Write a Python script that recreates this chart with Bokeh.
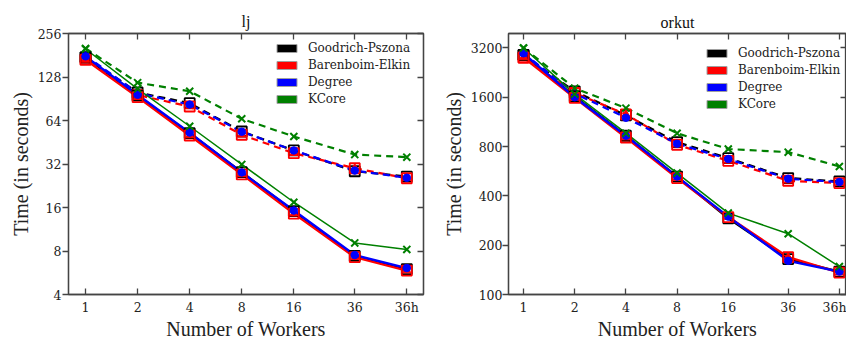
from bokeh.plotting import figure
from bokeh.layouts import row
from bokeh.models import (FixedTicker, PrintfTickFormatter, LogAxis, Legend, LegendItem,
                          CustomJSTickFormatter, Range1d)
from bokeh.embed import file_html
from bokeh.resources import INLINE

# ---------------- data ----------------
workers = [1, 2, 4, 8, 16, 36, 72]          # 72 is shown as "36h" (36 cores, hyper-threading)
worker_labels = ["1", "2", "4", "8", "16", "36", "36h"]
algorithms = ["Goodrich-Pszona", "Barenboim-Elkin", "Degree", "KCore"]

# lj  (solid = first variant, dashed = second variant)
lj_gp_solid = [175, 95, 52.3, 28.1, 15.1, 7.4, 6.0]
lj_be_solid = [168, 92.8, 50.4, 27.1, 14.5, 7.25, 5.86]
lj_deg_solid = [178, 96.4, 52.8, 28.0, 15.25, 7.5, 6.1]
lj_kc_solid = [200, 106, 58.4, 31.8, 17.4, 9.1, 8.2]
lj_gp_dash = [175, 100, 84.3, 53.7, 39.7, 28.5, 26.2]
lj_be_dash = [170, 96, 80, 51, 38, 29.9, 25.5]
lj_deg_dash = [180, 99, 82.5, 53.5, 39.7, 28.8, 25.7]
lj_kc_dash = [202, 117, 102, 65.8, 49.6, 37.2, 35.7]
lj_yticks = [4, 8, 16, 32, 64, 128, 256]

# orkut
ok_gp_solid = [2900, 1620, 932, 525, 292, 164.5, 138]
ok_be_solid = [2800, 1585, 909, 514, 297, 169, 136]
ok_deg_solid = [2970, 1600, 932, 525, 299, 160.6, 138]
ok_kc_solid = [3200, 1673, 966, 551, 314, 235, 148]
ok_gp_dash = [2900, 1740, 1240, 852, 680, 514, 490]
ok_be_dash = [2800, 1700, 1260, 821, 655, 495, 479]
ok_deg_dash = [2970, 1690, 1200, 833, 672, 509, 486]
ok_kc_dash = [3200, 1820, 1374, 965, 773, 740, 605]
ok_yticks = [100, 200, 400, 800, 1600, 3200]

COLORS = ["#000000", "#ff0000", "#0000ff", "#008000"]
SERIF = "Liberation Serif"
TICKFONT = "DejaVu Serif"
NAN = float("nan")


def make_fig(title, solid, dashed, yticks, x_rng, y_rng, w, borders, title_standoff,
             legend_loc, ylab_standoff, ytick_standoff):
    bl, br, bt, bb = borders
    p = figure(width=w, height=345, x_axis_type="log", y_axis_type="log",
               x_range=Range1d(*x_rng), y_range=Range1d(*y_rng),
               output_backend="svg", toolbar_location=None,
               min_border_left=bl, min_border_right=br, min_border_top=bt, min_border_bottom=bb)
    p.border_fill_color = "white"
    p.title.text = title
    p.title.align = "center"
    p.title.text_font = SERIF
    p.title.text_font_size = "16px"
    p.title.text_font_style = "normal"
    p.title.text_color = "#111111"
    p.title.standoff = title_standoff
    p.grid.visible = False
    p.outline_line_color = "#444444"
    p.outline_line_width = 1.3

    xa = p.xaxis[0]
    xa.ticker = FixedTicker(ticks=workers)
    xa.formatter = PrintfTickFormatter(format="%d")
    xa.major_label_overrides = {w: l for w, l in zip(workers, worker_labels)}
    xa.major_tick_in = 6
    xa.major_tick_out = 0
    xa.major_label_standoff = 5
    xa.axis_label = "Number of Workers"
    xa.axis_label_standoff = 0

    ya = p.yaxis[0]
    ya.ticker = FixedTicker(ticks=yticks)
    ya.formatter = PrintfTickFormatter(format="%d")
    ya.major_tick_in = 0
    ya.major_tick_out = 6
    ya.major_label_standoff = ytick_standoff
    ya.axis_label = "Time (in seconds)"
    ya.axis_label_standoff = ylab_standoff

    for ax in (xa, ya):
        ax.axis_line_color = "#444444"
        ax.axis_line_width = 1.3
        ax.major_tick_line_color = "#444444"
        ax.major_tick_line_width = 1.3
        ax.minor_tick_line_color = None
        ax.major_label_text_font = TICKFONT
        ax.major_label_text_font_size = "12.5px"
        ax.major_label_text_color = "#222222"
        ax.axis_label_text_font = SERIF
        ax.axis_label_text_font_size = "20px"
        ax.axis_label_text_font_style = "normal"
        ax.axis_label_text_color = "#222222"

    # mirrored ticks on top / right (inside, no labels)
    top = LogAxis(ticker=FixedTicker(ticks=workers), formatter=CustomJSTickFormatter(code="return ''"))
    right = LogAxis(ticker=FixedTicker(ticks=yticks), formatter=CustomJSTickFormatter(code="return ''"))
    for ax in (top, right):
        ax.major_tick_in = 6
        ax.major_tick_out = 0
        ax.minor_tick_line_color = None
        ax.major_label_text_font_size = "0px"
        ax.major_label_standoff = 0
        ax.axis_line_color = "#444444"
        ax.axis_line_width = 1.3
        ax.major_tick_line_color = "#444444"
        ax.major_tick_line_width = 1.3
    p.add_layout(top, "above")
    p.add_layout(right, "right")

    # lines
    dash_offsets = [0, 6, 0, 0]
    for i in range(4):
        lw_s = 1.5 if i == 3 else 2.3
        p.line(workers, dashed[i], line_color=COLORS[i], line_width=2.2,
               line_dash="7 5", line_dash_offset=dash_offsets[i])
        p.line(workers, solid[i], line_color=COLORS[i], line_width=lw_s)

    # markers
    for vals in (dashed, solid):
        p.scatter(workers, vals[0], marker="square", size=10, fill_color=None,
                  line_color=COLORS[0], line_width=1.8)
        p.scatter(workers, vals[1], marker="square", size=10, fill_color=None,
                  line_color=COLORS[1], line_width=1.8)
        p.scatter(workers, vals[1], marker="triangle", size=8, fill_color=COLORS[1],
                  line_color=COLORS[1])
        p.scatter(workers, vals[2], marker="circle", size=7.5, fill_color=COLORS[2],
                  line_color=COLORS[2])
        p.scatter(workers, vals[3], marker="x", size=10, line_color=COLORS[3], line_width=2)

    # legend with colour patches (the patch renderers hold no drawable points)
    items = []
    for name, c in zip(algorithms, COLORS):
        r = p.quad(left=[NAN], right=[NAN], bottom=[NAN], top=[NAN], fill_color=c,
                   line_color="#a0a0a0", line_width=1)
        items.append(LegendItem(label=name, renderers=[r]))
    leg = Legend(items=items, location=legend_loc, glyph_width=25, glyph_height=10,
                 label_standoff=9, spacing=3, padding=0, margin=0,
                 border_line_color=None, background_fill_alpha=0,
                 label_text_font=TICKFONT, label_text_font_size="12px",
                 label_text_color="#222222", label_height=14)
    p.add_layout(leg)
    return p


p1 = make_fig("lj",
              [lj_gp_solid, lj_be_solid, lj_deg_solid, lj_kc_solid],
              [lj_gp_dash, lj_be_dash, lj_deg_dash, lj_kc_dash],
              lj_yticks, (0.797, 89.9), (4, 256), 430, (68, 7, 33, 51), 8, (206, 188), 3, 1)
p2 = make_fig("orkut",
              [ok_gp_solid, ok_be_solid, ok_deg_solid, ok_kc_solid],
              [ok_gp_dash, ok_be_dash, ok_deg_dash, ok_kc_dash],
              ok_yticks, (0.816, 79.3), (100, 3923), 416, (78, 0, 33, 51), 6, (196, 183), 3, 0)

layout = row(p1, p2)
open("out.html", "w").write(file_html(layout, INLINE))
